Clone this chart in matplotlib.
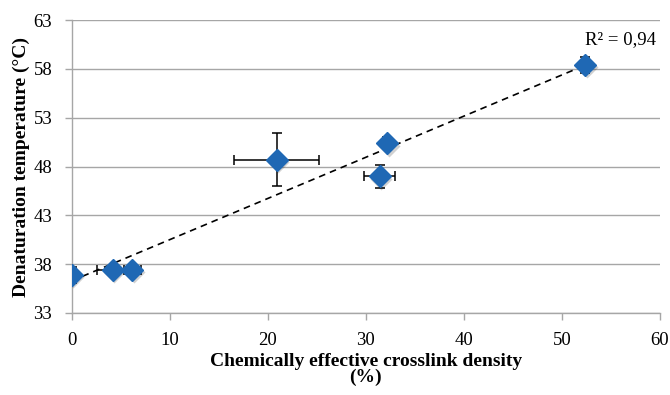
import numpy as np
import matplotlib.pyplot as plt
from matplotlib import rcParams

rcParams['font.family'] = 'serif'
rcParams['font.serif'] = ['Liberation Serif', 'DejaVu Serif']

# data
density = [0.0, 4.2, 6.2, 20.9, 31.4, 32.2, 52.4]
density_err = [0.3, 1.6, 0.9, 4.3, 1.6, 0.5, 0.4]
temp = [36.9, 37.4, 37.4, 48.7, 47.0, 50.4, 58.4]
temp_err = [0.8, 0.4, 0.3, 2.7, 1.2, 0.6, 0.8]

xticks = [0, 10, 20, 30, 40, 50, 60]
yticks = [33, 38, 43, 48, 53, 58, 63]

cMARK = "#1F68B4"
cGRID = "#A6A6A6"

fig = plt.figure(figsize=(6.7, 3.95), dpi=100)
ax = fig.add_axes([0.107, 0.2076, 0.878, 0.7414])

# linear trendline
k, b = np.polyfit(density, temp, 1)
xs = np.array([0, max(density)])
ax.plot(xs, k * xs + b, color="black", ls=(0, (4, 3)), lw=1.2, zorder=2)

ax.errorbar(density, temp, xerr=density_err, yerr=temp_err, fmt="none",
            ecolor="black", elinewidth=1.1, capsize=3.5, capthick=1.1, zorder=3)
# soft shadow under the markers
ax.plot(np.array(density) + 0.15, np.array(temp) - 0.25, "D", ms=11,
        color="#000000", alpha=0.18, mec="none", zorder=3.5)
ax.plot(density, temp, "D", ms=11, color=cMARK, mec=cMARK, zorder=4)

ax.text(56.0, 61.0, "R² = 0,94", ha="center", va="center", fontsize=13.5)

ax.set_xlim(0, 60)
ax.set_ylim(33, 63)
ax.set_xticks(xticks)
ax.set_yticks(yticks)
ax.tick_params(labelsize=13.5, colors=cGRID, labelcolor="black", length=5,
               width=1)
ax.tick_params(axis="y", pad=9)
ax.tick_params(axis="x", pad=9)
ax.grid(axis="y", color=cGRID, lw=1)
ax.set_axisbelow(True)
for s in ["top", "right"]:
    ax.spines[s].set_visible(False)
for s in ["left", "bottom"]:
    ax.spines[s].set_color(cGRID)
    ax.spines[s].set_linewidth(1)

ax.set_xlabel("Chemically effective crosslink density\n(%)", fontsize=14,
              fontweight="bold", linespacing=0.95)
ax.set_ylabel("Denaturation temperature (°C)", fontsize=14,
              fontweight="bold")
ax.xaxis.set_label_coords(0.5, -0.135)
ax.yaxis.set_label_coords(-0.085, 0.5)
ax.yaxis.label.set_va("center")

plt.savefig("out.png", dpi=100)
